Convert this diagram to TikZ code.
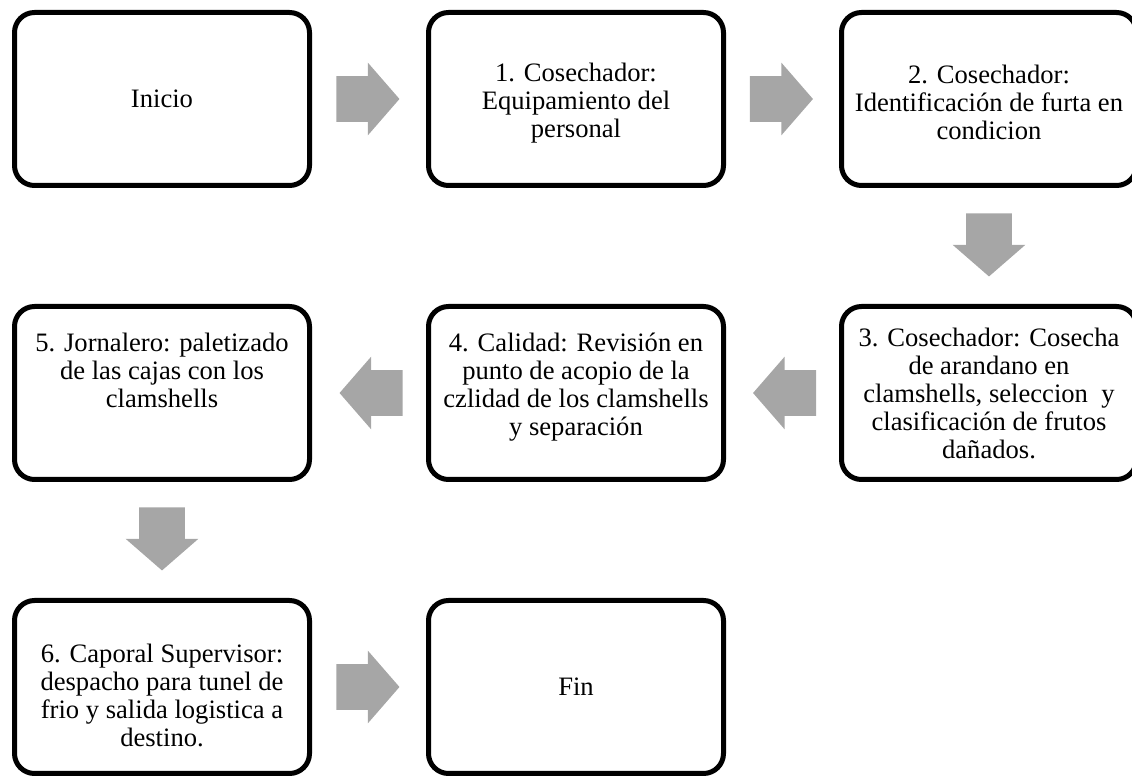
\documentclass[tikz,border=0pt]{standalone}
\usepackage{fontspec}
\setmainfont{Liberation Serif}
\usetikzlibrary{shapes.arrows,calc}
\definecolor{arrowgray}{RGB}{166,166,166}
\begin{document}
\begin{tikzpicture}[x=0.5pt,y=-0.5pt,
    box/.style={draw,line width=2.5pt,rounded corners=10pt,minimum width=147.5pt,
      minimum height=86.5pt,inner sep=0pt,align=center,font=\fontsize{13.3}{14}\selectfont},
    blockarrow/.style={single arrow,fill=arrowgray,draw=none,inner xsep=0pt,inner ysep=11.25pt,
      minimum height=31.5pt,single arrow head extend=6.75pt,single arrow tip angle=98}]
  \useasboundingbox (0,0) rectangle (1132,780);
  \node[box] (inicio) at (162,99) {Inicio};
  \node[box,text height=41pt] (paso1) at (576,99) {1. Cosechador:\\ Equipamiento del\\ personal};
  \node[box,text height=41pt] (paso2) at (989,99) {2. Cosechador:\\ Identificación de furta en\\ condicion};
  \node[box] (paso3) at (989,393) {3. Cosechador: Cosecha\\ de arandano en\\ clamshells, seleccion\ \ y\\ clasificación de frutos\\ dañados.};
  \node[box,text depth=9pt] (paso4) at (576,393) {4. Calidad: Revisión en\\ punto de acopio de la\\ czlidad de los clamshells\\ y separación};
  \node[box,text depth=23pt] (paso5) at (162,393) {5. Jornalero: paletizado\\ de las cajas con los\\ clamshells};
  \node[box,text height=60pt] (paso6) at (162,687) {6. Caporal Supervisor:\\ despacho para tunel de\\ frio y salida logistica a\\ destino.};
  \node[box] (fin) at (576,687) {Fin};
  \node[blockarrow] (f1) at ($(inicio.east)!0.5!(paso1.west)+(-11,0)$) {};
  \node[blockarrow] (f2) at ($(paso1.east)!0.5!(paso2.west)+(-11,0)$) {};
  \node[blockarrow,rotate=-90] (f3) at ($(paso2.south)!0.5!(paso3.north)+(0,-11)$) {};
  \node[blockarrow,rotate=180] (f4) at ($(paso3.west)!0.5!(paso4.east)+(12,0)$) {};
  \node[blockarrow,rotate=180] (f5) at ($(paso4.west)!0.5!(paso5.east)+(12,0)$) {};
  \node[blockarrow,rotate=-90] (f6) at ($(paso5.south)!0.5!(paso6.north)+(0,-11)$) {};
  \node[blockarrow] (f7) at ($(paso6.east)!0.5!(fin.west)+(-11,0)$) {};
\end{tikzpicture}
\end{document}
